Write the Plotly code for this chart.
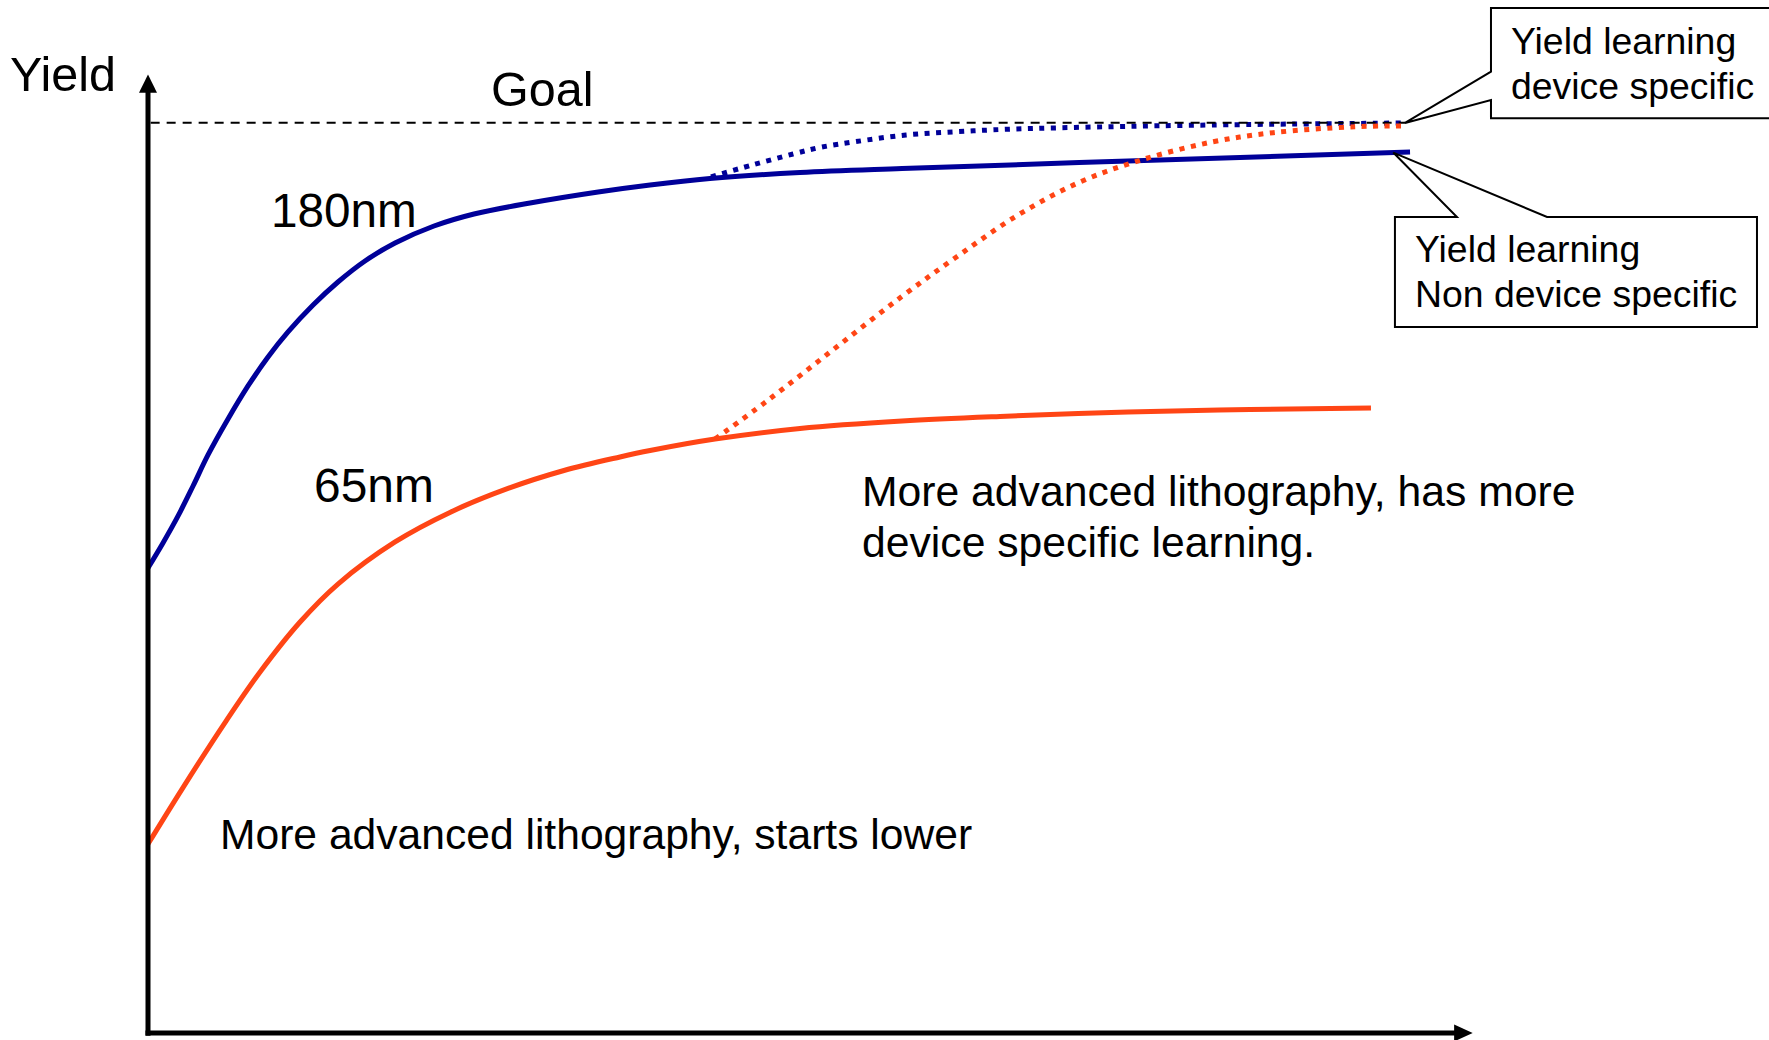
import numpy as np
import plotly.graph_objects as go

# Yield learning curves (time in arbitrary units, yield in % of goal)
t_180 = [0, 1.13, 2.27, 3.40, 4.53, 6.04, 7.55, 9.06, 10.57, 12.46, 14.34, 16.38,
         18.65, 21.59, 24.61, 28.84, 33.98, 37.90, 42.42, 49.22, 56.92, 73.98, 95.27]
y_180 = [51.08, 53.83, 56.80, 60.09, 63.50, 67.45, 71.08, 74.26, 77.01, 79.97, 82.50, 84.81,
         86.78, 88.65, 89.97, 91.18, 92.39, 93.16, 93.87, 94.53, 94.97, 95.79, 96.78]

t_180_dev = [42.50, 45.60, 48.69, 50.73, 53.37, 57.22, 61.07, 64.92, 72.62, 80.32, 94.89]
y_180_dev = [94.04, 95.35, 96.56, 97.28, 97.91, 98.65, 99.01, 99.28, 99.56, 99.75, 99.97]

t_65 = [0, 2.57, 5.89, 8.46, 11.48, 14.34, 18.65, 22.87, 27.18, 31.40, 35.63,
        37.90, 42.80, 49.22, 56.92, 64.32, 73.98, 83.19, 92.32]
y_65 = [20.76, 26.80, 34.27, 39.66, 45.15, 49.32, 53.94, 57.24, 59.82, 61.79, 63.28,
        63.99, 65.25, 66.41, 67.23, 67.73, 68.22, 68.49, 68.66]

t_65_dev = [42.80, 46.73, 51.79, 56.85, 61.08, 65.68, 70.36, 74.96, 80.32, 84.93, 91.11, 94.89]
y_65_dev = [65.25, 69.43, 75.14, 80.85, 85.30, 89.86, 93.49, 95.90, 97.88, 98.90, 99.56, 99.64]

goal = 100
goal_end = 94.9

BLUE = "#000099"
ORANGE = "#FF4515"
FONT = "Liberation Sans, Arial, sans-serif"
DOTS = "5px,6.5px"

fig = go.Figure()

# 180nm: non device specific (solid) and device specific (dotted)
fig.add_trace(go.Scatter(x=t_180, y=y_180, mode="lines", line_shape="spline",
                         line=dict(color=BLUE, width=5)))
fig.add_trace(go.Scatter(x=t_180_dev, y=y_180_dev, mode="lines", line_shape="spline",
                         line=dict(color=BLUE, width=5, dash=DOTS)))

# goal level
fig.add_trace(go.Scatter(x=[0.2, goal_end], y=[goal, goal], mode="lines",
                         line=dict(color="black", width=2, dash="9px,7px")))

# 65nm
fig.add_trace(go.Scatter(x=t_65, y=y_65, mode="lines", line_shape="spline",
                         line=dict(color=ORANGE, width=5)))
fig.add_trace(go.Scatter(x=t_65_dev, y=y_65_dev, mode="lines", line_shape="spline",
                         line=dict(color=ORANGE, width=5, dash=DOTS)))

# axes drawn as arrows
fig.add_trace(go.Scatter(x=[0, 0], y=[-0.3, 103.6], mode="lines",
                         line=dict(color="black", width=5)))
fig.add_trace(go.Scatter(x=[-0.19, 98.8], y=[0, 0], mode="lines",
                         line=dict(color="black", width=5)))

shapes = [
    dict(type="path", path="M 0,105.3 L 0.68,103.3 L -0.68,103.3 Z",
         fillcolor="black", line=dict(width=0)),
    dict(type="path", path="M 100.0,0 L 98.6,0.93 L 98.6,-0.93 Z",
         fillcolor="black", line=dict(width=0)),
]

# callout: device specific (points at the end of the dotted curves)
tip_x, tip_y = t_180_dev[-1], y_180_dev[-1]
shapes.append(dict(
    type="path",
    path=(f"M 101.38,112.6 L 123,112.6 L 123,100.5 L 101.38,100.5 L 101.38,102.5 "
          f"L {tip_x},{tip_y} L 101.38,105.6 Z"),
    fillcolor="white", line=dict(color="black", width=2)))

# callout: non device specific (points at the end of the solid 180nm curve)
tip2_x = 94.0
tip2_y = float(np.interp(tip2_x, t_180, y_180))
shapes.append(dict(
    type="path",
    path=(f"M 94.13,89.64 L 98.81,89.64 L {tip2_x},{tip2_y} L 105.61,89.64 "
          f"L 121.46,89.64 L 121.46,77.56 L 94.13,77.56 Z"),
    fillcolor="white", line=dict(color="black", width=2)))


def label(text, x, y, size, xanchor="center"):
    return dict(text=text, x=x, y=y, xref="x", yref="y", showarrow=False,
                xanchor=xanchor, yanchor="middle", align="left",
                font=dict(family=FONT, size=size, color="black"))


annotations = [
    label("Yield", -6.38, 105.4, 48.5),
    label("Goal", 29.74, 103.7, 48.5),
    label("180nm", 14.83, 90.4, 47.7),
    label("65nm", 17.06, 60.2, 47.9),
    label("More advanced lithography, starts lower", 5.30, 21.9, 42.6, "left"),
    label("More advanced lithography, has more", 53.78, 59.5, 42.7, "left"),
    label("device specific learning.", 53.78, 53.95, 42.7, "left"),
    label("Yield learning", 102.71, 109.02, 37.4, "left"),
    label("device specific", 102.71, 104.07, 37.4, "left"),
    label("Yield learning", 95.47, 86.09, 37.4, "left"),
    label("Non device specific", 95.47, 81.13, 37.4, "left"),
]

fig.update_layout(
    width=1769, height=1040,
    margin=dict(l=0, r=0, t=0, b=0),
    paper_bgcolor="white", plot_bgcolor="white",
    showlegend=False,
    xaxis=dict(range=[-148 / 13.247, (1769 - 148) / 13.247], visible=False),
    yaxis=dict(range=[(1033 - 1040) / 9.103, 1033 / 9.103], visible=False),
    shapes=shapes,
    annotations=annotations,
)

fig.write_html("out.html")
